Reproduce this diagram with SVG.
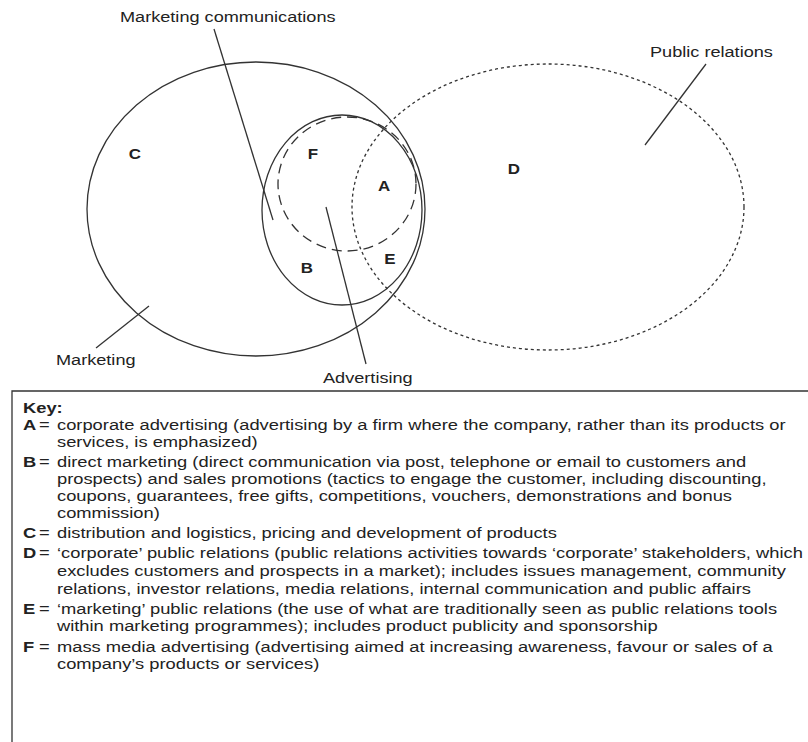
<svg xmlns="http://www.w3.org/2000/svg" width="808" height="742" viewBox="0 0 808 742">
<style>
.ln{fill:none;stroke:#333;stroke-width:1.3}
.lbl{font-family:"Liberation Sans",Arial,sans-serif;font-size:15px;fill:#222}
.reg{font-family:"Liberation Sans",Arial,sans-serif;font-size:14px;font-weight:bold;fill:#222;text-anchor:middle}
.key{font-family:"Liberation Sans",Arial,sans-serif;font-size:15px;fill:#222}
.kb{font-weight:bold}
</style>
<rect width="808" height="742" fill="#fff"/>
<g id="marketing"><ellipse class="ln" cx="256" cy="209" rx="169" ry="147"/></g>
<g id="public-relations"><ellipse class="ln" cx="548" cy="207" rx="196" ry="143" stroke-dasharray="3,3"/></g>
<g id="marketing-communications"><ellipse class="ln" cx="342" cy="210" rx="80" ry="95"/></g>
<g id="advertising"><ellipse class="ln" cx="347" cy="184" rx="69" ry="67" stroke-dasharray="10,6"/></g>
<g id="connectors">
<line class="ln" x1="214" y1="29" x2="273" y2="220"/>
<line class="ln" x1="706" y1="64" x2="645" y2="145"/>
<line class="ln" x1="96" y1="348" x2="149" y2="306"/>
<line class="ln" x1="326" y1="207" x2="366" y2="364"/>
</g>
<g id="labels" transform="scale(1.21,1)">
<text class="lbl" x="99.17" y="22">Marketing communications</text>
<text class="lbl" x="537.2" y="57">Public relations</text>
<text class="lbl" x="46.28" y="365">Marketing</text>
<text class="lbl" x="266.94" y="383">Advertising</text>
<text class="reg" x="111.57" y="159">C</text>
<text class="reg" x="424.79" y="174">D</text>
<text class="reg" x="317.36" y="191">A</text>
<text class="reg" x="253.72" y="273">B</text>
<text class="reg" x="322.31" y="264">E</text>
<text class="reg" x="258.68" y="159">F</text>
</g>
<g id="key">
<path class="ln" d="M12,742 V391 H808"/>
<g transform="scale(1.222,1)">
<text class="key kb" x="18.82" y="413">Key:</text>
<text class="key kb" x="18.82" y="430">A</text><text class="key" x="31.9" y="430">=</text>
<text class="key" x="46.64" y="430">corporate advertising (advertising by a firm where the company, rather than its products or</text>
<text class="key" x="46.64" y="447">services, is emphasized)</text>
<text class="key kb" x="18.82" y="467">B</text><text class="key" x="31.9" y="467">=</text>
<text class="key" x="46.64" y="467">direct marketing (direct communication via post, telephone or email to customers and</text>
<text class="key" x="46.64" y="484">prospects) and sales promotions (tactics to engage the customer, including discounting,</text>
<text class="key" x="46.64" y="501">coupons, guarantees, free gifts, competitions, vouchers, demonstrations and bonus</text>
<text class="key" x="46.64" y="518">commission)</text>
<text class="key kb" x="18.82" y="538">C</text><text class="key" x="31.9" y="538">=</text>
<text class="key" x="46.64" y="538">distribution and logistics, pricing and development of products</text>
<text class="key kb" x="18.82" y="558">D</text><text class="key" x="31.9" y="558">=</text>
<text class="key" x="46.64" y="558">‘corporate’ public relations (public relations activities towards ‘corporate’ stakeholders, which</text>
<text class="key" x="46.64" y="576">excludes customers and prospects in a market); includes issues management, community</text>
<text class="key" x="46.64" y="594">relations, investor relations, media relations, internal communication and public affairs</text>
<text class="key kb" x="18.82" y="614">E</text><text class="key" x="31.9" y="614">=</text>
<text class="key" x="46.64" y="614">‘marketing’ public relations (the use of what are traditionally seen as public relations tools</text>
<text class="key" x="46.64" y="631">within marketing programmes); includes product publicity and sponsorship</text>
<text class="key kb" x="18.82" y="652">F</text><text class="key" x="31.9" y="652">=</text>
<text class="key" x="46.64" y="652">mass media advertising (advertising aimed at increasing awareness, favour or sales of a</text>
<text class="key" x="46.64" y="669">company’s products or services)</text>
</g>
</g>
</svg>
